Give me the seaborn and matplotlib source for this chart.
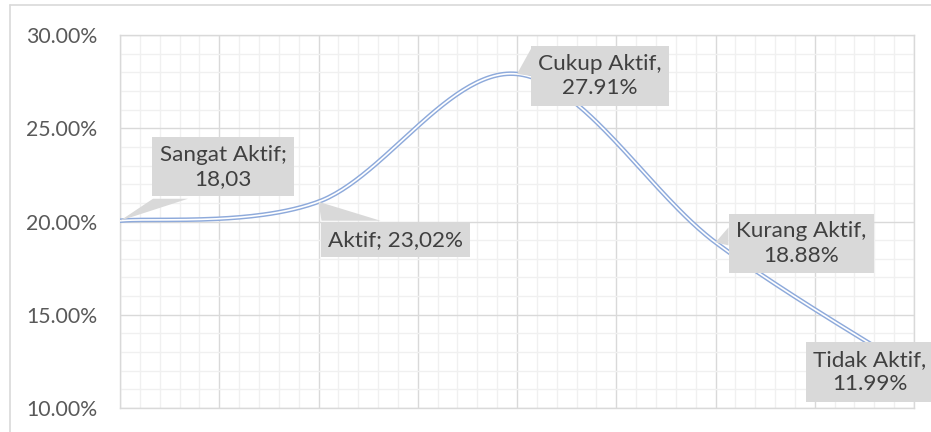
import numpy as np
import matplotlib
matplotlib.use("Agg")
import matplotlib.pyplot as plt
import matplotlib.transforms as mtransforms
from matplotlib.patches import Polygon
from matplotlib.ticker import MultipleLocator, FuncFormatter
import seaborn as sns

# ---- data ----
categories = ["Sangat Aktif", "Aktif", "Cukup Aktif", "Kurang Aktif", "Tidak Aktif"]
values = [0.2004, 0.2106, 0.2791, 0.1888, 0.1199]
label_texts = ["Sangat Aktif;\n18,03", "Aktif; 23,02%", "Cukup Aktif,\n27.91%",
               "Kurang Aktif,\n18.88%", "Tidak Aktif,\n11.99%"]

sns.set_theme(style="white")
plt.rcParams["font.family"] = ["Lato", "DejaVu Sans"]

W, H, DPI = 931, 432, 100
fig = plt.figure(figsize=(W / DPI, H / DPI), dpi=DPI)
fig.patch.set_facecolor("white")

# plot area in pixels (image coordinates)
L, R, T, B = 120, 914, 35, 408
ax = fig.add_axes([L / W, 1 - B / H, (R - L) / W, (B - T) / H])

# outer chart border (left & top)
fig.add_artist(plt.Line2D([9.5 / W, 9.5 / W], [0, 1 - 5 / H], color="#d9d9d9", lw=1.2))
fig.add_artist(plt.Line2D([9.5 / W, 1], [1 - 5 / H, 1 - 5 / H], color="#d9d9d9", lw=1.2))


# Excel-style smoothed line (Catmull-Rom as cubic Bezier)
def smooth(xs, ys, n=60):
    P = np.column_stack([xs, ys]).astype(float)
    out = []
    for i in range(len(P) - 1):
        p0 = P[i - 1] if i > 0 else P[i]
        p1, p2 = P[i], P[i + 1]
        p3 = P[i + 2] if i + 2 < len(P) else P[i + 1]
        c1 = p1 + (p2 - p0) / 6
        c2 = p2 - (p3 - p1) / 6
        t = np.linspace(0, 1, n)[:, None]
        seg = ((1 - t) ** 3) * p1 + 3 * ((1 - t) ** 2) * t * c1 + 3 * (1 - t) * t ** 2 * c2 + t ** 3 * p2
        out.append(seg if i == 0 else seg[1:])
    S = np.vstack(out)
    return S[:, 0], S[:, 1]


xs = np.arange(len(categories))
sx, sy = smooth(xs, values)

# compound (double) line: blue underneath, thin white on top
sns.lineplot(x=sx, y=sy, ax=ax, sort=False, estimator=None, color="#8eaadb", lw=3.3, zorder=3)
sns.lineplot(x=sx, y=sy, ax=ax, sort=False, estimator=None, color="white", lw=1.2, zorder=4)

ax.set_xlim(0, len(categories) - 1)
ax.set_ylim(0.10, 0.30)
ax.xaxis.set_major_locator(MultipleLocator(0.5))
ax.xaxis.set_minor_locator(MultipleLocator(0.1))
ax.yaxis.set_major_locator(MultipleLocator(0.05))
ax.yaxis.set_minor_locator(MultipleLocator(0.01))
ax.grid(which="major", color="#d9d9d9", lw=1.0, zorder=1)
ax.grid(which="minor", color="#f0f0f0", lw=1.0, zorder=0)
ax.set_axisbelow(True)
ax.set_xticklabels([])
ax.tick_params(axis="both", which="both", length=0)
ax.tick_params(axis="y", pad=16.5, labelsize=15.3, labelcolor="#595959")
ax.yaxis.set_major_formatter(FuncFormatter(lambda v, p: f"{v*100:.2f}%"))
for s in ax.spines.values():
    s.set_color("#d9d9d9")
    s.set_linewidth(1.0)
ax.set_xlabel("")
ax.set_ylabel("")

# ---- callouts (offsets in image pixels relative to data point: right, down) ----
box_offsets = [(103, -54), (77, 38), (83, 2), (86, 1), (-44, 1)]
# triangle base points relative to data point (image pixels: right, down)
tri_bases = [
    [(33, -22), (68, -22)],
    [(3, 19), (62, 19)],
    [(15, -27), (15, 2)],
    [(13, -15), (13, 3)],
    None,
]
gray = "#d9d9d9"
for i, (x, y) in enumerate(zip(xs, values)):
    px, py = ax.transData.transform((x, y))
    dx, dy = box_offsets[i]
    ax.text(px + dx, py - dy, label_texts[i], transform=mtransforms.IdentityTransform(),
            ha="center", va="center", fontsize=16.2, color="#404040", linespacing=1.28,
            zorder=6, clip_on=False,
            bbox=dict(boxstyle="square,pad=0.33", fc=gray, ec="none"))
    if tri_bases[i] is not None:
        (ax1, ay1), (ax2, ay2) = tri_bases[i]
        poly = Polygon([(px, py), (px + ax1, py - ay1), (px + ax2, py - ay2)],
                       closed=True, fc=gray, ec="none", zorder=5,
                       transform=mtransforms.IdentityTransform(), clip_on=False)
        fig.add_artist(poly)

fig.savefig("out.png", dpi=DPI, facecolor="white")
